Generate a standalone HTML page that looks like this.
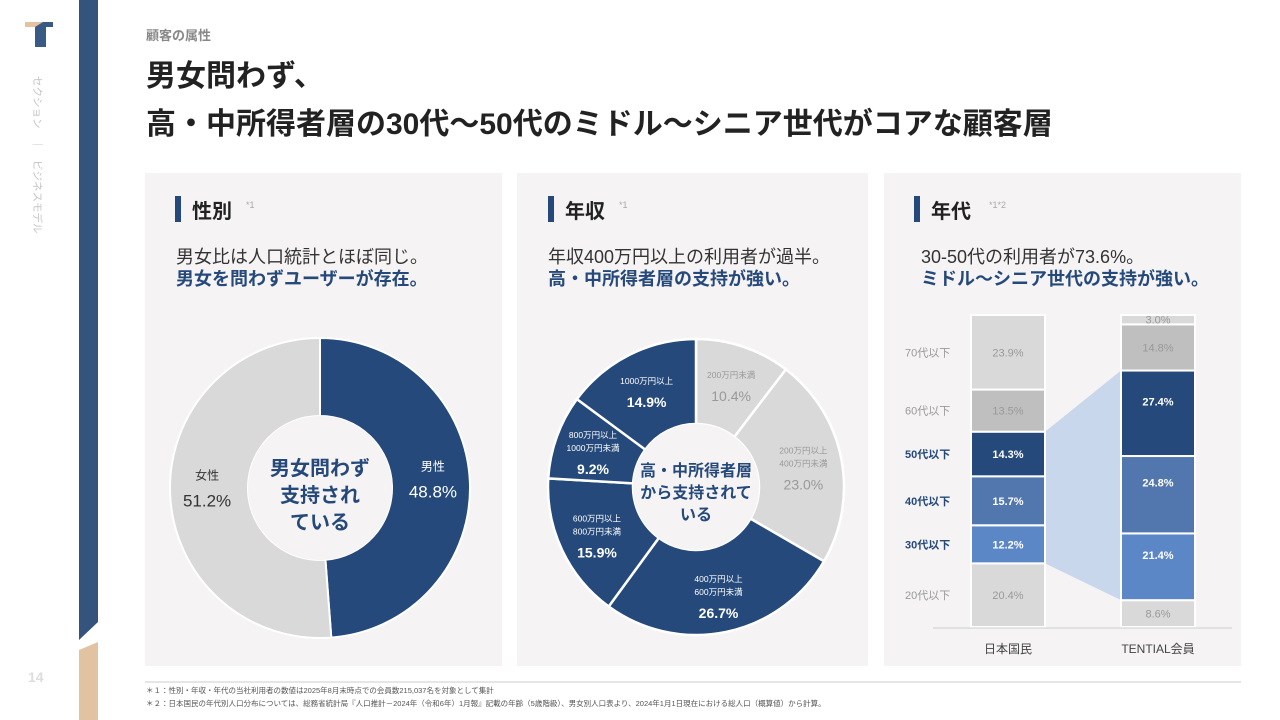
<!DOCTYPE html>
<html><head><meta charset="utf-8">
<style>
html,body{margin:0;padding:0;width:1280px;height:720px;overflow:hidden;background:#fff;}
svg{display:block;font-family:"Liberation Sans","Noto Sans CJK JP",sans-serif;}
</style></head>
<body>
<svg id="s" width="1280" height="720" viewBox="0 0 1280 720" xmlns="http://www.w3.org/2000/svg">
<g>
<rect x="25" y="22" width="18" height="5" fill="#e3c3a2"/>
<polygon points="35,27 43,22 53,22 53,27 46,27 46,47 35,47" fill="#3a5a86"/>
<text x="0" y="0" transform="translate(34,76) rotate(90)" font-size="10.5" fill="#c4c4c4">セクション　｜　ビジネスモデル</text>
<polygon points="79,0 98,0 98,622 79,640" fill="#34537d"/>
<polygon points="79,650 98,642 98,720 79,720" fill="#e2c3a1"/>
<text x="28" y="682" font-size="14" font-weight="bold" fill="#ddd">14</text>
</g>
<text x="146" y="40" font-size="13" font-weight="bold" fill="#888">顧客の属性</text>
<text x="146" y="86" font-size="30" font-weight="bold" fill="#222">男女問わず、</text>
<text x="146" y="134" font-size="30" font-weight="bold" fill="#222">高・中所得者層の30代〜50代のミドル〜シニア世代がコアな顧客層</text>

<rect x="145" y="173" width="357" height="493" fill="#f5f3f4"/>
<rect x="517" y="173" width="351" height="493" fill="#f5f3f4"/>
<rect x="884" y="173" width="357" height="493" fill="#f5f3f4"/>

<rect x="175" y="196" width="6" height="26" fill="#25497a"/>
<text x="192" y="218" font-size="20" font-weight="bold" fill="#222">性別</text>
<text x="246" y="208" font-size="9" fill="#aaa">*1</text>
<text x="176" y="263" font-size="18" fill="#333">男女比は人口統計とほぼ同じ。</text>
<text x="176" y="285" font-size="18" font-weight="bold" fill="#25497a">男女を問わずユーザーが存在。</text>

<rect x="548" y="196" width="6" height="26" fill="#25497a"/>
<text x="565" y="218" font-size="20" font-weight="bold" fill="#222">年収</text>
<text x="619" y="208" font-size="9" fill="#aaa">*1</text>
<text x="548" y="263" font-size="18" fill="#333">年収400万円以上の利用者が過半。</text>
<text x="548" y="285" font-size="18" font-weight="bold" fill="#25497a">高・中所得者層の支持が強い。</text>

<rect x="914" y="196" width="6" height="26" fill="#25497a"/>
<text x="931" y="218" font-size="20" font-weight="bold" fill="#222">年代</text>
<text x="989" y="208" font-size="9" fill="#aaa">*1*2</text>
<text x="921" y="263" font-size="18" fill="#333">30-50代の利用者が73.6%。</text>
<text x="921" y="285" font-size="18" font-weight="bold" fill="#25497a">ミドル〜シニア世代の支持が強い。</text>

<g id="g1"></g><g id="g2"></g><g id="g3"></g>

<line x1="145" y1="682" x2="1241" y2="682" stroke="#ccc"/>
<text x="146" y="693" font-size="7.5" fill="#555">＊１：性別・年収・年代の当社利用者の数値は2025年8月末時点での会員数215,037名を対象として集計</text>
<text x="146" y="706" font-size="7.5" fill="#555">＊２：日本国民の年代別人口分布については、総務省統計局『人口推計－2024年（令和6年）1月報』記載の年齢（5歳階級）、男女別人口表より、2024年1月1日現在における総人口（概算値）から計算。</text>
</svg>
<script>
const genderLabels=["男性","女性"];
const genderValues=[48.8,51.2];
const incomeLabels=[["200万円未満"],["200万円以上","400万円未満"],["400万円以上","600万円未満"],["600万円以上","800万円未満"],["800万円以上","1000万円未満"],["1000万円以上"]];
const incomeValues=[10.4,23.0,26.7,15.9,9.2,14.9];
const ageCategories=["20代以下","30代以下","40代以下","50代以下","60代以下","70代以下"];
const ageNational=[20.4,12.2,15.7,14.3,13.5,23.9];
const ageTential=[8.6,21.4,24.8,27.4,14.8,3.0];
const barGroups=["日本国民","TENTIAL会員"];

const NS="http://www.w3.org/2000/svg";
function mk(parent,tag,attrs){const e=document.createElementNS(NS,tag);for(const k in attrs)e.setAttribute(k,attrs[k]);parent.appendChild(e);return e;}
function pt(cx,cy,r,a){return [cx+r*Math.sin(a),cy-r*Math.cos(a)];}
function arc(cx,cy,ro,ri,a0,a1){const L=(a1-a0)>Math.PI?1:0;const p0=pt(cx,cy,ro,a0),p1=pt(cx,cy,ro,a1),q1=pt(cx,cy,ri,a1),q0=pt(cx,cy,ri,a0);
return `M${p0[0]},${p0[1]}A${ro},${ro} 0 ${L} 1 ${p1[0]},${p1[1]}L${q1[0]},${q1[1]}A${ri},${ri} 0 ${L} 0 ${q0[0]},${q0[1]}Z`;}

// gender donut
(function(){
const g=document.getElementById('g1');const cx=320,cy=488,ro=150,ri=72;
const tot=genderValues.reduce((a,b)=>a+b,0);let a=0;
const cols=["#25497a","#d9d9d9"];
genderValues.forEach((v,i)=>{const a1=a+v/tot*2*Math.PI;
const p=mk(g,'path',{d:arc(cx,cy,ro,ri,a,a1),fill:cols[i],stroke:'#fff','stroke-width':2});


const m=(a+a1)/2;const c=pt(cx,cy,(ro+ri)/2+2,m);
const t1=mk(g,'text',{x:c[0],y:c[1]-13,'text-anchor':'middle','font-size':12,fill:i==0?'#fff':'#333'});t1.textContent=genderLabels[i];


const t2=mk(g,'text',{x:c[0],y:c[1]+14,'text-anchor':'middle','font-size':17,fill:i==0?'#fff':'#333'});t2.textContent=v.toFixed(1)+'%';


a=a1;});
const c=mk(g,'circle',{cx:cx,cy:cy,r:ri,fill:'#f5f3f4'});


["男女問わず","支持され","ている"].forEach((s,i)=>{const t=mk(g,'text',{x:cx,y:cy-13+i*27,'text-anchor':'middle','font-size':20,'font-weight':'bold',fill:'#25497a'});t.textContent=s;

});
})();

// income donut
(function(){
const g=document.getElementById('g2');const cx=696,cy=487,ro=148,ri=63;
const tot=incomeValues.reduce((a,b)=>a+b,0);let a=0;
incomeValues.forEach((v,i)=>{const a1=a+v/tot*2*Math.PI;const gray=i<2;
const p=mk(g,'path',{d:arc(cx,cy,ro,ri,a,a1),fill:gray?'#d9d9d9':'#25497a',stroke:'#fff','stroke-width':2.5});


const m=(a+a1)/2;const c=pt(cx,cy,(ro+ri)/2+4,m);
const lab=incomeLabels[i];const n=lab.length;const y0=c[1]-(n*13+18)/2+10;
lab.forEach((s,j)=>{const t=mk(g,'text',{x:c[0],y:y0+j*13,'text-anchor':'middle','font-size':8.5,fill:gray?'#999':'#fff'});t.textContent=s;

});
const t2=mk(g,'text',{x:c[0],y:y0+n*13+10,'text-anchor':'middle','font-size':14,'font-weight':gray?'normal':'bold',fill:gray?'#999':'#fff'});t2.textContent=v.toFixed(1)+'%';


a=a1;});
const c=mk(g,'circle',{cx:cx,cy:cy,r:ri,fill:'#f5f3f4'});


["高・中所得者層","から支持されて","いる"].forEach((s,i)=>{const t=mk(g,'text',{x:cx,y:cy-11+i*22,'text-anchor':'middle','font-size':16,'font-weight':'bold',fill:'#25497a'});t.textContent=s;

});
})();

// age stacked bars
(function(){
const g=document.getElementById('g3');const base=627,h=312;
const y=v=>v/100*h;
const xs=[971,1121],w=74;
const cols=["#d9d9d9","#5b87c7","#5277ae","#25497a","#bfbfbf","#d9d9d9"];
const dark=[false,true,true,true,false,false];
const series=[ageNational,ageTential];
let n0=ageNational[0],n1=n0+ageNational[1]+ageNational[2]+ageNational[3];
let t0=ageTential[0],t1=t0+ageTential[1]+ageTential[2]+ageTential[3];
const poly=mk(g,'polygon',{points:`${xs[0]+w},${base-y(n0)} ${xs[0]+w},${base-y(n1)} ${xs[1]},${base-y(t1)} ${xs[1]},${base-y(t0)}`,fill:'#c9d7ec'});


series.forEach((s,si)=>{let acc=0;s.forEach((v,i)=>{const yt=base-y(acc+v),hh=y(v);
const r=mk(g,'rect',{x:xs[si],y:yt,width:w,height:hh,fill:cols[i],stroke:'#fff','stroke-width':2});


let ty=yt+hh/2+4;
if(si==1&&dark[i]&&hh>50)ty-=12;
const t=mk(g,'text',{x:xs[si]+w/2,y:ty,'text-anchor':'middle','font-size':11,'font-weight':dark[i]?'bold':'normal',fill:dark[i]?'#fff':'#999'});
t.textContent=v.toFixed(1)+'%';


acc+=v;});});
let acc=0;ageCategories.forEach((c,i)=>{const v=ageNational[i];const yc=base-y(acc+v)+y(v)/2+4;
const t=mk(g,'text',{x:905,y:yc,'font-size':11,'font-weight':dark[i]?'bold':'normal',fill:dark[i]?'#25497a':'#999'});t.textContent=c;

acc+=v;});
const ax=mk(g,'line',{x1:933,y1:base+1,x2:1232,y2:base+1,stroke:'#ccc'});


barGroups.forEach((c,i)=>{const t=mk(g,'text',{x:xs[i]+w/2,y:653,'text-anchor':'middle','font-size':12,fill:'#444'});t.textContent=c;

});
})();
</script>
</body></html>
